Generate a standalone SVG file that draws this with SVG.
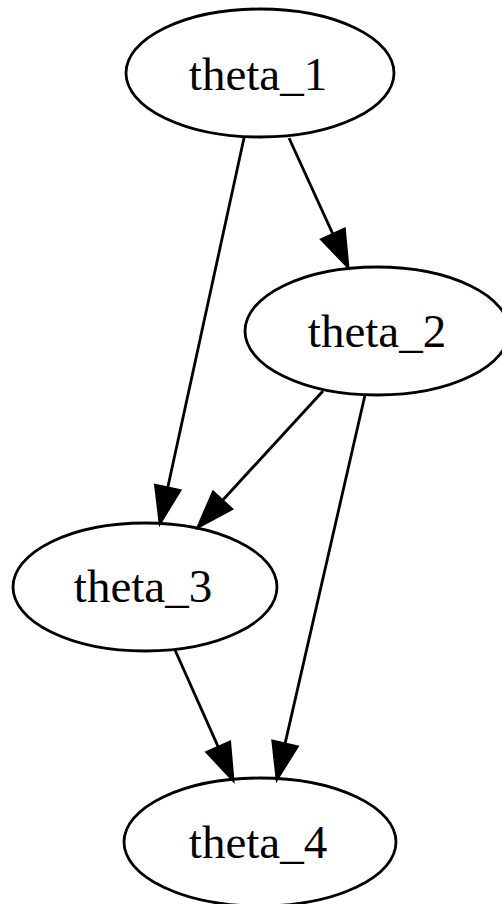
<svg xmlns="http://www.w3.org/2000/svg" width="502" height="904" viewBox="0 0 502 904">
<style>
.node ellipse{fill:none;stroke:#000;stroke-width:2.8}
.node text{font-family:"Liberation Serif","Times New Roman",serif;font-size:47px;fill:#000;text-anchor:middle}
.edge line{stroke:#000;stroke-width:2.8}
.edge polygon{fill:#000;stroke:#000;stroke-width:2.8;stroke-linejoin:miter}
</style>
<rect width="502" height="904" fill="#fff"/>
<g id="edges">
<g class="edge" id="e1_3"><line x1="244" y1="138" x2="167.7" y2="487.8"/><polygon points="179.9,490.5 160,523 155.5,485.2"/></g>
<g class="edge" id="e1_2"><line x1="289" y1="138" x2="333" y2="234.3"/><polygon points="344.4,229.1 348,267 321.6,239.5"/></g>
<g class="edge" id="e2_3"><line x1="323" y1="391" x2="222.4" y2="500.5"/><polygon points="231.6,509 198,527 213.2,492"/></g>
<g class="edge" id="e2_4"><line x1="365" y1="395" x2="285" y2="743.9"/><polygon points="297.2,746.7 277,779 272.8,741.1"/></g>
<g class="edge" id="e3_4"><line x1="175" y1="650" x2="218.3" y2="747.1"/><polygon points="229.7,742 233,780 206.9,752.2"/></g>
</g>
<g class="node" id="theta_1"><ellipse cx="260" cy="73" rx="134" ry="64"/><text x="258" y="90">theta_1</text></g>
<g class="node" id="theta_2"><ellipse cx="377" cy="331" rx="132" ry="64"/><text x="377" y="347">theta_2</text></g>
<g class="node" id="theta_3"><ellipse cx="145" cy="587" rx="132" ry="64"/><text x="143" y="602">theta_3</text></g>
<g class="node" id="theta_4"><ellipse cx="260" cy="842" rx="136" ry="64"/><text x="258" y="858">theta_4</text></g>
</svg>
